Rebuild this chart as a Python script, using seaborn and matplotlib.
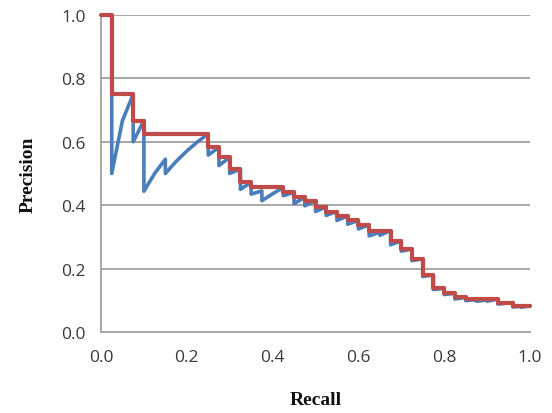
import matplotlib
matplotlib.use("Agg")
import matplotlib.pyplot as plt
import pandas as pd
import seaborn as sns

# Precision measured after each ranked detection (recall, precision)
raw_recall = [
    0.025, 0.025, 0.05, 0.075, 0.075, 0.1, 0.1, 0.125, 0.15, 0.15,
    0.175, 0.2, 0.225, 0.25, 0.25, 0.275, 0.275, 0.3, 0.3, 0.325,
    0.325, 0.35, 0.35, 0.375, 0.375, 0.4, 0.425, 0.425, 0.45, 0.45,
    0.475, 0.475, 0.5, 0.5, 0.525, 0.525, 0.55, 0.55, 0.575, 0.575,
    0.6, 0.6, 0.625, 0.625, 0.65, 0.65, 0.675, 0.675, 0.7, 0.7,
    0.725, 0.725, 0.75, 0.75, 0.775, 0.775, 0.8, 0.8, 0.825, 0.825,
    0.85, 0.85, 0.875, 0.875, 0.9, 0.9, 0.925, 0.925, 0.96, 0.96,
    0.98, 0.98, 1.0,
]
raw_precision = [
    1.0, 0.5, 0.667, 0.75, 0.6, 0.667, 0.444, 0.5, 0.545, 0.5,
    0.538, 0.571, 0.6, 0.625, 0.558, 0.583, 0.525, 0.551, 0.5, 0.514,
    0.45, 0.472, 0.435, 0.445, 0.414, 0.436, 0.456, 0.43, 0.441, 0.405,
    0.425, 0.398, 0.414, 0.38, 0.395, 0.368, 0.38, 0.352, 0.366, 0.34,
    0.352, 0.325, 0.338, 0.303, 0.315, 0.305, 0.32, 0.275, 0.288, 0.255,
    0.262, 0.225, 0.231, 0.175, 0.18, 0.134, 0.138, 0.118, 0.122, 0.104,
    0.109, 0.099, 0.102, 0.097, 0.101, 0.097, 0.104, 0.088, 0.093, 0.079,
    0.081, 0.078, 0.083,
]

# Interpolated precision: level held from each recall breakpoint onward
interp_recall = [
    0.0, 0.025, 0.075, 0.1, 0.25, 0.275, 0.3, 0.325, 0.35, 0.425,
    0.45, 0.475, 0.5, 0.525, 0.55, 0.575, 0.6, 0.625, 0.675, 0.7,
    0.725, 0.75, 0.775, 0.8, 0.825, 0.85, 0.925, 0.96, 1.0,
]
interp_precision = [
    1.0, 0.75, 0.667, 0.625, 0.583, 0.551, 0.514, 0.472, 0.456, 0.441,
    0.425, 0.414, 0.395, 0.38, 0.366, 0.352, 0.338, 0.32, 0.288, 0.262,
    0.231, 0.18, 0.138, 0.122, 0.109, 0.104, 0.093, 0.083, 0.083,
]

axis_ticks = [0.0, 0.2, 0.4, 0.6, 0.8, 1.0]
axis_tick_labels = ["0.0", "0.2", "0.4", "0.6", "0.8", "1.0"]

sns.set_theme(style="white")
plt.rcParams["font.family"] = ["Open Sans", "DejaVu Sans"]

fig = plt.figure(figsize=(5.52, 4.14), dpi=100)
ax = fig.add_axes([101 / 552, 1 - 333 / 414, (530 - 101) / 552, (333 - 16) / 414])

raw = pd.DataFrame({"Recall": raw_recall, "Precision": raw_precision})
interp = pd.DataFrame({"Recall": interp_recall, "Precision": interp_precision})

grid_color = "#a6a6a6"
for y in axis_ticks[1:]:
    ax.axhline(y, color=grid_color, linewidth=1.4, zorder=0)

sns.lineplot(data=raw, x="Recall", y="Precision", estimator=None, sort=False,
             color="#4a7ebb", linewidth=2.6, ax=ax, clip_on=False, zorder=3)
sns.lineplot(data=interp, x="Recall", y="Precision", estimator=None, sort=False,
             drawstyle="steps-post", color="#be4b48", linewidth=3.0, ax=ax,
             clip_on=False, zorder=4)

ax.set_xlim(0, 1)
ax.set_ylim(0, 1)
ax.set_xticks(axis_ticks)
ax.set_xticklabels(axis_tick_labels)
ax.set_yticks(axis_ticks)
ax.set_yticklabels(axis_tick_labels)
ax.tick_params(axis="both", length=0, labelsize=12.5, labelcolor="#3a3a3a")
ax.tick_params(axis="x", pad=12)
ax.tick_params(axis="y", pad=11)

for side in ["top", "right"]:
    ax.spines[side].set_visible(False)
for side in ["left", "bottom"]:
    ax.spines[side].set_color(grid_color)
    ax.spines[side].set_linewidth(1.4)

label_font = dict(family=["Liberation Serif", "DejaVu Serif"], fontweight="bold",
                  fontsize=14, color="#111111")
ax.set_xlabel("Recall", labelpad=19, **label_font)
ax.set_ylabel("Precision", labelpad=18, **label_font)

fig.savefig("out.png", dpi=100)
